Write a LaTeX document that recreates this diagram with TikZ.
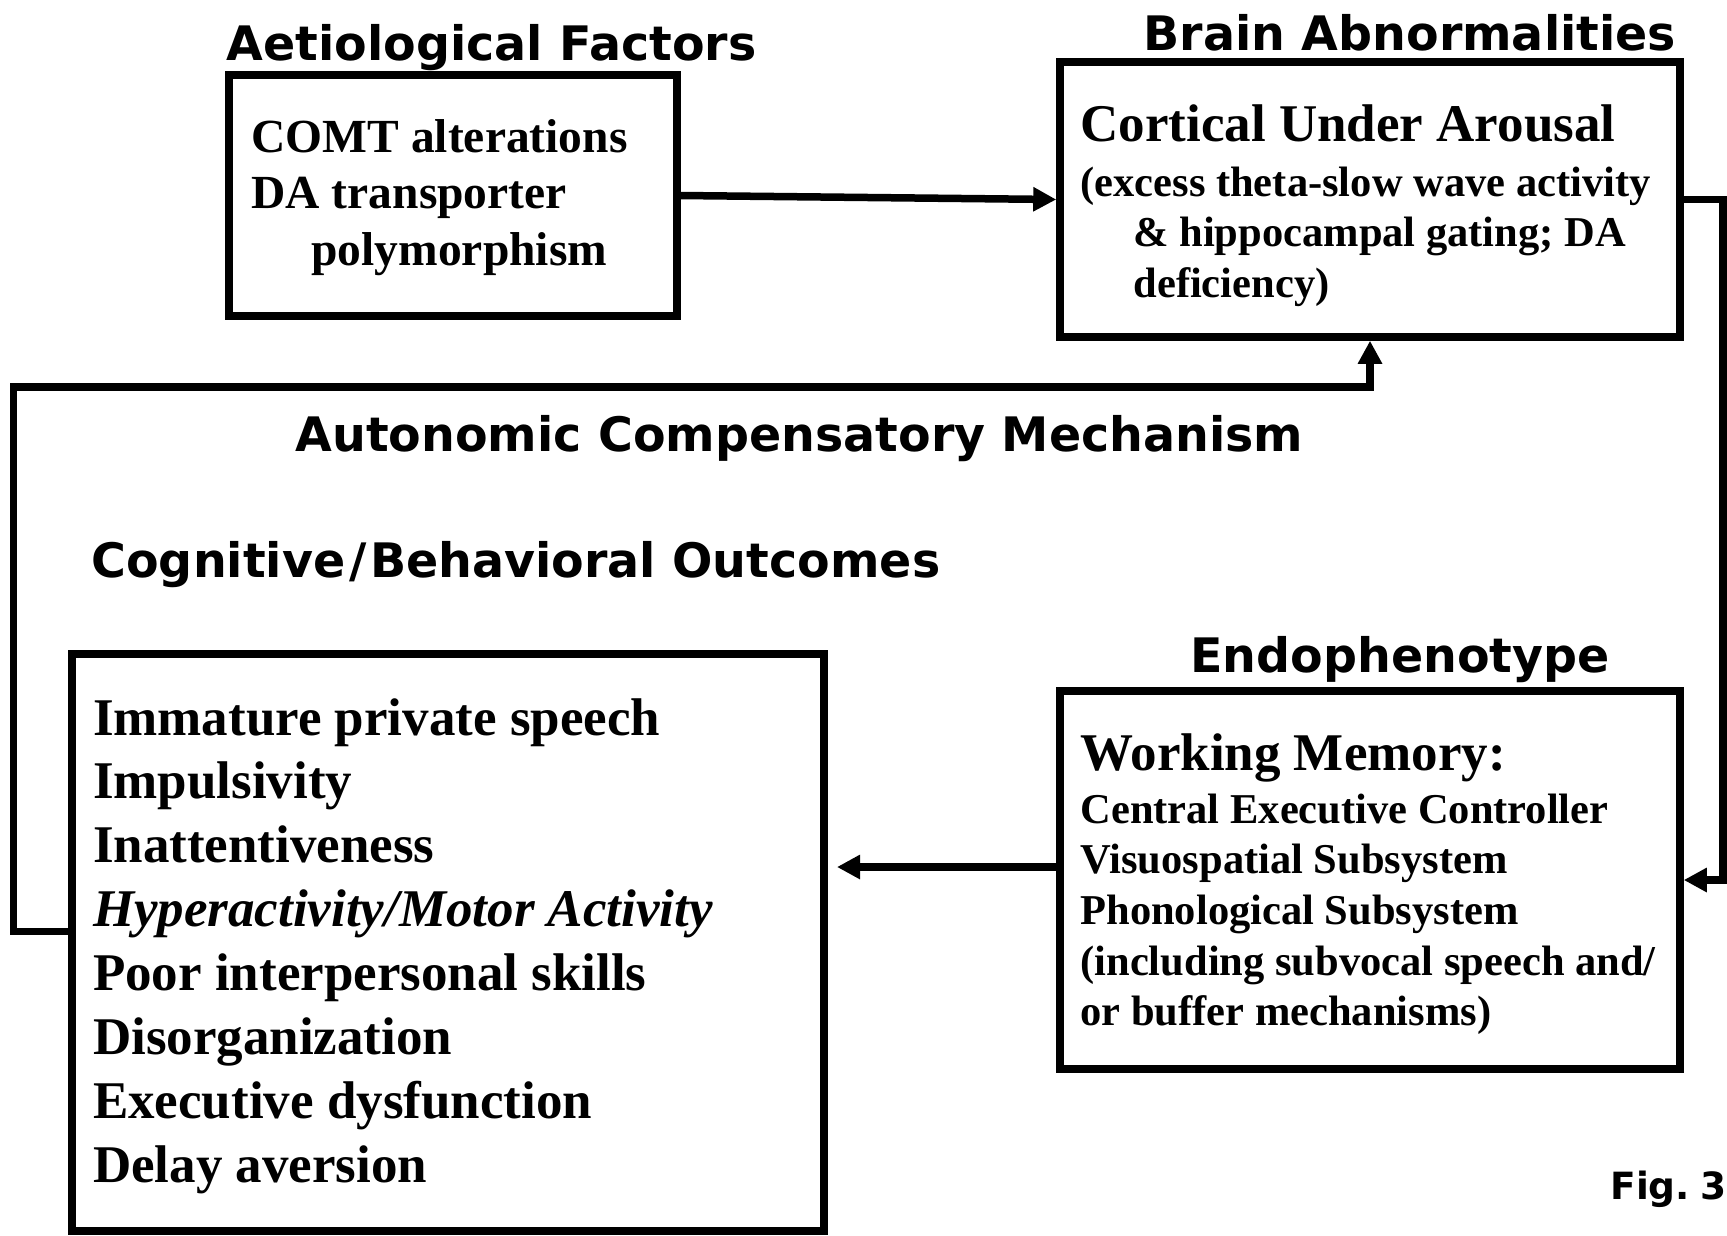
\documentclass[tikz,border=0pt]{standalone}
\usepackage{fontspec}
\setmainfont{Liberation Serif}
\newfontfamily\headfont{DejaVu Sans}
\usetikzlibrary{arrows.meta,calc}
\begin{document}
\begin{tikzpicture}[x=0.4pt,y=-0.4pt,
  box/.style={draw, rectangle, line width=3pt, inner sep=0pt},
  heading/.style={anchor=base west, inner sep=0pt, font=\headfont\bfseries\fontsize{19pt}{22pt}\selectfont},
  bigline/.style={anchor=base west, inner sep=0pt, font=\bfseries\fontsize{21.2pt}{25pt}\selectfont},
  midline/.style={anchor=base west, inner sep=0pt, font=\bfseries\fontsize{19pt}{22pt}\selectfont},
  smallline/.style={anchor=base west, inner sep=0pt, font=\bfseries\fontsize{17pt}{20pt}\selectfont},
  conn/.style={line width=3pt, -{Triangle[length=9.2pt,width=9.2pt]}}
]
\useasboundingbox (0,0) rectangle (1727,1235);

% boxes
\node[box, minimum width=179.2pt, minimum height=96.4pt] (aet) at (453,195.5) {};
\node[box, minimum width=248pt, minimum height=110pt] (brain) at (1370,199.5) {};
\node[box, minimum width=248pt, minimum height=151.2pt] (endo) at (1370,880) {};
\node[box, minimum width=300.8pt, minimum height=230.8pt] (beh) at (448,942.5) {};

% headings
\node[heading] (hAet) at (226,60) {Aetiological Factors};
\node[heading] (hBrain) at (1143,50) {Brain Abnormalities};
\node[heading] (hAuto) at (295,451) {Autonomic Compensatory Mechanism};
\node[heading] (hBeh) at (91,577) {Cognitive\kern1.5pt/\kern1.5pt Behavioral Outcomes};
\node[heading] (hEndo) at (1190,672) {Endophenotype};
\node[heading, font=\headfont\bfseries\fontsize{15pt}{17pt}\selectfont] (fig) at (1610,1199) {Fig.\kern4pt3};

% aetiological factors
\node[midline] (aet1) at (251,152) {COMT alterations};
\node[midline] (aet2) at (251,208) {DA transporter};
\node[midline] (aet3) at (311,265) {polymorphism};

% brain abnormalities
\node[bigline] (br1) at (1080,141) {Cortical Under Arousal};
\node[smallline] (br2) at (1080,196) {(excess theta-slow wave activity};
\node[smallline] (br3) at (1133,246.5) {\& hippocampal gating; DA};
\node[smallline] (br4) at (1133,297) {deficiency)};

% endophenotype
\node[bigline] (wm0) at (1080,770) {Working Memory:};
\foreach \t [count=\i] in {{Central Executive Controller}, {Visuospatial Subsystem}, {Phonological Subsystem}, {(including subvocal speech and/}, {or buffer mechanisms)}}
  \node[smallline] (wm\i) at (1080,{823+(\i-1)*50.7}) {\t};

% outcomes
\foreach \t [count=\i] in {{Immature private speech}, {Impulsivity}, {Inattentiveness}, {\itshape Hyperactivity/Motor Activity}, {Poor interpersonal skills}, {Disorganization}, {Executive dysfunction}, {Delay aversion}}
  \node[bigline] (out\i) at (92.5,{735+(\i-1)*63.9}) {\t};

% connectors
\draw[conn] (aet.east) -- (brain.west);
\draw[conn] (brain.east) -- ++(39,0) |- (endo.east);
\coordinate (wmOut) at ($(endo.west)+(0,-13)$);
\coordinate (behIn) at (837,867);
\draw[conn] (wmOut) -- (behIn);
\coordinate (fbStart) at ($(beh.west)+(0,-11)$);
\coordinate (fbLeft) at (13.5,387);
\draw[conn] (fbStart) -| (fbLeft) -| (brain.south);
\end{tikzpicture}
\end{document}
